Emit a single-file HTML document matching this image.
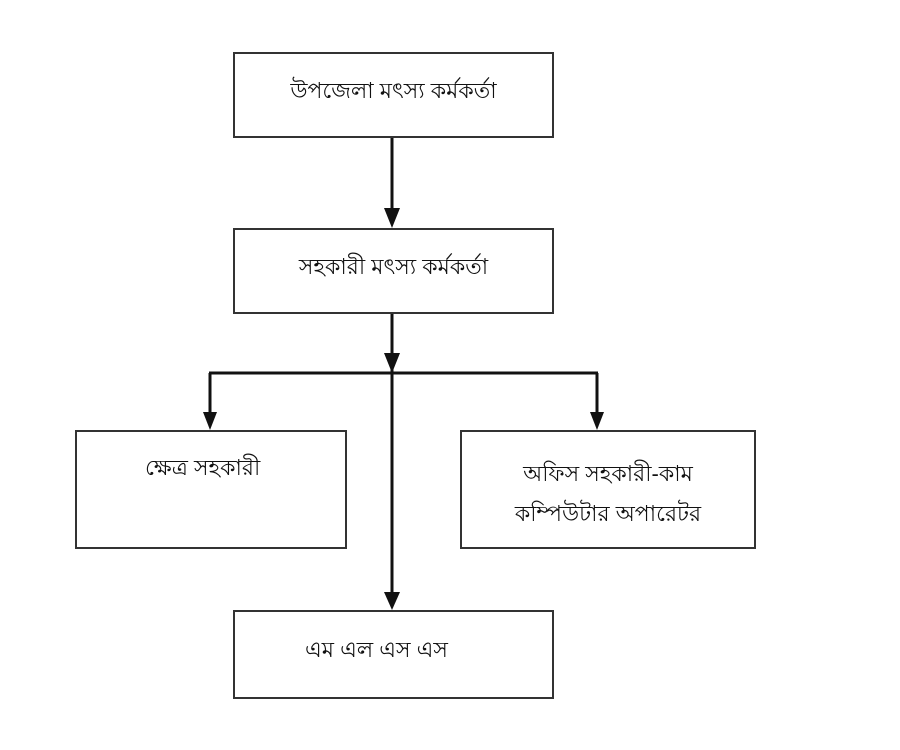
<!DOCTYPE html>
<html><head><meta charset="utf-8"><style>
html,body{margin:0;padding:0;background:#fff;}
body{width:900px;height:750px;position:relative;overflow:hidden;font-family:"Liberation Sans","Noto Sans CJK SC",sans-serif;}
.b{position:absolute;border:2px solid #333;box-sizing:border-box;background:#fff;}
.t{position:absolute;font-size:22px;color:#111;white-space:nowrap;}
</style></head><body>
<svg width="900" height="750" style="position:absolute;left:0;top:0">
<g stroke="#111" stroke-width="3" fill="none">
<line x1="392" y1="137" x2="392" y2="212"/>
<line x1="392" y1="313" x2="392" y2="595"/>
<line x1="209" y1="373" x2="598" y2="373"/>
<line x1="210" y1="373" x2="210" y2="415"/>
<line x1="597" y1="373" x2="597" y2="415"/>
</g>
<g fill="#111">
<polygon points="384,208 400,208 392,228"/>
<polygon points="384,353 400,353 392,373"/>
<polygon points="203,412 217,412 210,430"/>
<polygon points="590,412 604,412 597,430"/>
<polygon points="384,592 400,592 392,610"/>
</g>
</svg>
<div class="b" style="left:233px;top:52px;width:321px;height:86px"></div>
<div class="b" style="left:233px;top:228px;width:321px;height:86px"></div>
<div class="b" style="left:75px;top:430px;width:272px;height:119px"></div>
<div class="b" style="left:460px;top:430px;width:296px;height:119px"></div>
<div class="b" style="left:233px;top:610px;width:321px;height:89px"></div>
<div class="t" style="left:233px;width:321px;text-align:center;top:74px">উপজেলা মৎস্য কর্মকর্তা</div>
<div class="t" style="left:233px;width:321px;text-align:center;top:250px">সহকারী মৎস্য কর্মকর্তা</div>
<div class="t" style="left:145px;top:451px">ক্ষেত্র সহকারী</div>
<div class="t" style="left:460px;width:296px;text-align:center;top:454px;line-height:40px">অফিস সহকারী-কাম<br>কম্পিউটার অপারেটর</div>
<div class="t" style="left:305px;top:633px">এম এল এস এস</div>
</body></html>
